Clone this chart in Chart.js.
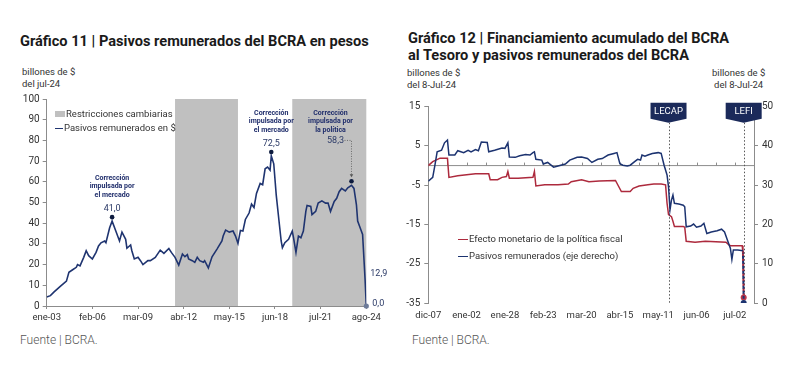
<!DOCTYPE html>
<html>
<head>
<meta charset="utf-8">
<script src="https://cdn.jsdelivr.net/npm/chart.js@4.4.1/dist/chart.umd.min.js"></script>
<style>
body { margin: 0; background: #fff; font-family: Roboto, "Noto Sans", sans-serif; color: #222; }
#page { position: relative; width: 800px; height: 375px; overflow: hidden; }
.t { position: absolute; white-space: nowrap; }
.titulo { font-weight: 700; font-size: 14.6px; line-height: 16.7px; color: #1a1a1a; }
.unidad { font-size: 9.5px; line-height: 11.5px; color: #333; }
.fuente { font-weight: 300; font-size: 12px; color: #555; }
.ley { font-size: 9.5px; line-height: 14px; color: #333; }
.ley span { display: inline-block; vertical-align: middle; margin-right: 1px; }
canvas { position: absolute; }
</style>
</head>
<body>
<div id="page">
  <div class="t titulo" style="left:20px; top:33px;">Gráfico 11 | Pasivos remunerados del BCRA en pesos</div>
  <div class="t unidad" style="left:22px; top:66px;">billones de $<br>del jul-24</div>

  <div class="t titulo" style="left:408px; top:30px;">Gráfico 12 | Financiamiento acumulado del BCRA<br>al Tesoro y pasivos remunerados del BCRA</div>
  <div class="t unidad" style="left:407px; top:67px;">billones de $<br>del 8-Jul-24</div>
  <div class="t unidad" style="left:712px; top:67px; text-align:center;">billones de $<br>del 8-Jul-24</div>

  <canvas id="g11" width="400" height="240" style="left:0px; top:90px;"></canvas>
  <canvas id="g12" width="400" height="240" style="left:400px; top:90px;"></canvas>

  <div class="t ley" style="left:55px; top:107px;">
    <span style="width:10px; height:6px; background:#c0c0c0;"></span>Restricciones cambiarias<br>
    <span style="width:8px; height:1.6px; background:#1f3470;"></span>Pasivos remunerados en $
  </div>

  <div class="t ley" style="left:458px; top:230px; line-height:17px;">
    <span style="width:10px; height:1.6px; background:#ad2a3d;"></span>Efecto monetario de la política fiscal<br>
    <span style="width:10px; height:1.6px; background:#1c3370;"></span>Pasivos remunerados (eje derecho)
  </div>

  <div class="t fuente" style="left:20px; top:333px;">Fuente | BCRA.</div>
  <div class="t fuente" style="left:412px; top:333px;">Fuente | BCRA.</div>
</div>

<script>
// ---- Gráfico 11: meses desde ene-03 ----
const etiquetas11 = ['ene-03', 'feb-06', 'mar-09', 'abr-12', 'may-15', 'jun-18', 'jul-21', 'ago-24'];
const mesesPasivos = [0, 3, 6, 11, 16, 18, 21, 24, 25, 27, 30, 32, 34, 37, 40, 42, 44, 47, 48, 51,
  53, 56, 59, 61, 64, 65, 68, 69, 71, 74, 76, 78, 82, 84, 88, 92, 95, 99, 101, 104,
  107, 110, 112, 114, 115, 118, 120, 122, 124, 127, 128, 131, 134, 138, 142, 143, 145, 148, 151, 153,
  155, 157, 159, 161, 164, 166, 168, 170, 173, 175, 177, 179, 181, 182, 184, 186, 188, 190, 191, 193,
  196, 199, 200, 202, 204, 206, 208, 210, 211, 214, 215, 218, 220, 223, 226, 228, 230, 233, 235, 237,
  239, 242, 244, 247, 249, 251, 252, 254, 256, 258, 259];
const pasivos = [4.4, 5.0, 6.8, 9.5, 12.0, 16.3, 17.5, 18.7, 20.0, 19.4, 23.5, 26.7, 24.3, 22.7, 25.9, 29.0, 30.5, 31.4, 30.6, 37.8,
  41.0, 36.2, 31.4, 35.7, 32.2, 27.9, 29.5, 26.7, 22.7, 23.5, 21.9, 20.0, 21.9, 21.9, 23.5, 27.0, 25.4, 27.8, 25.9, 23.5,
  19.8, 25.1, 23.8, 24.8, 22.7, 21.9, 21.1, 23.5, 21.9, 21.1, 21.9, 18.4, 23.8, 27.5, 31.4, 33.8, 36.7, 35.7, 36.2, 33.8,
  30.3, 36.5, 36.2, 41.8, 44.9, 49.2, 47.6, 54.4, 59.2, 58.6, 66.3, 67.1, 65.6, 72.5, 68.7, 53.7, 42.5, 31.4, 28.2, 30.6,
  32.2, 36.2, 33.0, 25.9, 33.8, 33.0, 36.2, 45.7, 48.6, 48.1, 44.1, 45.7, 49.7, 50.8, 49.7, 49.7, 45.7, 50.5, 52.0, 55.2,
  56.8, 55.6, 57.1, 58.3, 56.8, 48.9, 41.0, 37.8, 34.6, 12.9, 0.0];
const restrInicio = [104, 199];
const restrFin = [155, 259];
const picosMes = [53, 182, 247];
const picosValor = [41.0, 72.5, 58.3];
const picosTexto = [['Corrección', 'impulsada por', 'el mercado'],
                    ['Corrección', 'impulsada por', 'el mercado'],
                    ['Corrección', 'impulsada por', 'la política']];

// ---- Gráfico 12: días desde dic-07 ----
const etiquetas12 = ['dic-07', 'ene-02', 'ene-28', 'feb-23', 'mar-20', 'abr-15', 'may-11', 'jun-06', 'jul-02'];
const diasPasivos = [0, 3, 4.5, 6, 9, 11, 13, 14, 18, 20, 24, 27, 29, 32, 34, 36, 40, 41, 45, 50,
  52, 54, 55, 59, 62, 66, 69, 71, 72, 73, 77, 78, 81, 85, 88, 93, 96, 101, 104, 108,
  111, 115, 118, 122, 126, 128, 130, 132, 135, 137, 140, 142, 144, 145, 147, 149, 152, 156, 158, 160,
  162, 163, 164, 165, 166, 167, 170, 173, 174, 175, 178, 180, 182, 185, 187, 189, 192, 196, 199, 201,
  203, 205, 206, 207, 210, 213.5];
const pasivosRem = [31.0, 32.0, 35.1, 38.5, 38.9, 40.8, 41.5, 37.7, 37.7, 38.8, 38.3, 38.9, 38.5, 39.1, 38.8, 41.0, 40.9, 38.5, 38.9, 39.5,
  39.4, 40.8, 37.2, 37.1, 37.5, 37.8, 37.7, 38.3, 38.5, 36.6, 36.4, 35.4, 35.8, 34.6, 34.9, 35.4, 36.4, 37.1, 37.2, 36.8,
  35.8, 36.6, 36.8, 37.7, 38.1, 38.3, 35.5, 35.1, 34.9, 35.1, 36.0, 36.6, 36.4, 37.7, 37.4, 37.7, 38.1, 38.3, 38.1, 35.1,
  32.6, 29.6, 23.7, 26.2, 27.5, 25.4, 25.2, 24.9, 24.5, 19.4, 19.6, 20.1, 19.3, 19.6, 20.3, 17.7, 18.1, 18.4, 18.8, 18.1,
  16.0, 13.9, 11.1, 13.5, 13.5, 13.3];
const diasEfecto = [0, 3, 8, 13, 14, 20, 32, 41, 42, 47, 50, 53, 54, 55, 61, 71, 72, 73, 79, 88,
  95, 97, 104, 109, 116, 127, 129, 131, 137, 139, 143, 149, 153, 158, 161, 162, 163, 165, 166, 167,
  173, 174, 175, 181, 188, 202, 204, 205, 213, 213.5];
const efectoFiscal = [0.0, 1.0, 1.9, 1.9, -3.0, -2.6, -2.1, -2.1, -3.6, -3.6, -3.0, -2.8, -1.5, -3.2, -3.2, -3.0, -1.5, -5.2, -4.9, -4.9,
  -4.7, -4.1, -3.6, -4.1, -3.9, -3.8, -5.2, -6.6, -6.6, -5.8, -5.2, -4.9, -4.7, -4.7, -4.9, -9.6, -12.5, -13.0, -14.2, -15.5,
  -15.5, -15.7, -19.3, -19.5, -19.3, -19.5, -20.2, -20.4, -20.4, -22.3];
const diasProy = [213.5, 214];
const efectoProy = [-22.3, -33.6];
const pasivosProy = [13.3, 0.0];
const eventosDia = [163, 214];
const eventosTexto = ['LECAP', 'LEFI'];

const gris = '#8c8c8c';
const fuenteEje = { family: 'Roboto', size: 9.5 };
const coma = v => v.toFixed(1).replace('.', ',');
const puntos = (xs, ys) => xs.map((x, i) => ({ x: x, y: ys[i] }));

const plugin11 = {
  id: 'anotaciones11',
  beforeDatasetsDraw(chart) {
    const { ctx, scales: { x, y } } = chart;
    ctx.save();
    ctx.fillStyle = '#c0c0c0';
    restrInicio.forEach((m, i) => {
      const x0 = x.getPixelForValue(m), x1 = x.getPixelForValue(restrFin[i]);
      const y0 = y.getPixelForValue(100), y1 = y.getPixelForValue(0);
      ctx.fillRect(x0, y0, x1 - x0, y1 - y0);
    });
    ctx.restore();
  },
  afterDatasetsDraw(chart) {
    const { ctx, scales: { x, y } } = chart;
    ctx.save();
    ctx.textAlign = 'center';
    ctx.textBaseline = 'middle';
    const topBloque = y.getPixelForValue(picosValor[1]) - 43;
    picosMes.forEach((m, i) => {
      const px = x.getPixelForValue(m), py = y.getPixelForValue(picosValor[i]);
      let bx = px, by = py - 43, vx = px, vy = py - 12.5;
      if (i === 2) { bx = px - 21; by = topBloque; vx = px - 16; vy = topBloque + 27.5; }
      ctx.fillStyle = '#1f2d6b';
      ctx.font = 'bold 7px Roboto';
      picosTexto[i].forEach((linea, k) => ctx.fillText(linea, bx, by + k * 8.6));
      ctx.fillStyle = '#2b3a67';
      ctx.font = '9px Roboto';
      ctx.fillText(coma(picosValor[i]), vx, vy);
      if (i === 2) {
        ctx.strokeStyle = '#555';
        ctx.lineWidth = 0.8;
        ctx.setLineDash([1, 1.5]);
        ctx.beginPath();
        ctx.moveTo(px - 7, vy);
        ctx.lineTo(px, vy);
        ctx.lineTo(px, py - 10);
        ctx.stroke();
        ctx.setLineDash([]);
        ctx.fillStyle = '#555';
        ctx.beginPath();
        ctx.moveTo(px - 1.8, py - 11);
        ctx.lineTo(px + 1.8, py - 11);
        ctx.lineTo(px, py - 8);
        ctx.fill();
      }
      ctx.fillStyle = '#0d1b3e';
      ctx.beginPath();
      ctx.arc(px, py - 4, 2.3, 0, Math.PI * 2);
      ctx.fill();
    });
    // ultimos datos
    const n = mesesPasivos.length;
    const xf = x.getPixelForValue(mesesPasivos[n - 1]);
    ctx.textAlign = 'left';
    ctx.fillStyle = '#2b3a67';
    ctx.font = '9px Roboto';
    ctx.fillText(coma(pasivos[n - 2]), xf + 4, y.getPixelForValue(pasivos[n - 2]) - 6);
    ctx.fillText(coma(pasivos[n - 1]), xf + 6, y.getPixelForValue(pasivos[n - 1]) - 2);
    ctx.fillStyle = '#6d7b99';
    ctx.beginPath();
    ctx.arc(xf, y.getPixelForValue(pasivos[n - 1]), 2.6, 0, Math.PI * 2);
    ctx.fill();
    ctx.restore();
  }
};

new Chart(document.getElementById('g11'), {
  type: 'line',
  data: {
    datasets: [{
      label: 'Pasivos remunerados en $',
      data: puntos(mesesPasivos, pasivos),
      borderColor: '#1f3470',
      borderWidth: 1.6,
      pointRadius: 0,
      tension: 0
    }]
  },
  options: {
    responsive: false,
    animation: false,
    layout: { padding: { top: 7, right: 33.7 } },
    plugins: { legend: { display: false }, tooltip: { enabled: false } },
    scales: {
      x: {
        type: 'linear', min: 0, max: 259,
        afterFit: s => { s.height = 24; },
        ticks: {
          stepSize: 37, includeBounds: false, autoSkip: false, maxRotation: 0, padding: 3,
          color: '#333', font: fuenteEje,
          callback: v => etiquetas11[Math.round(v / 37)]
        },
        grid: { drawOnChartArea: false, tickLength: 3, color: gris },
        border: { color: gris }
      },
      y: {
        min: 0, max: 100,
        afterFit: s => { s.width = 46.7; },
        ticks: { stepSize: 10, padding: 3, color: '#333', font: { family: 'Roboto', size: 10 } },
        grid: { drawOnChartArea: false, tickLength: 4, color: gris },
        border: { color: gris }
      }
    }
  },
  plugins: [plugin11]
});

const plugin12 = {
  id: 'anotaciones12',
  beforeDatasetsDraw(chart) {
    const { ctx, chartArea, scales: { x, y } } = chart;
    ctx.save();
    const y0 = y.getPixelForValue(0);
    ctx.strokeStyle = gris;
    ctx.lineWidth = 1;
    ctx.beginPath();
    ctx.moveTo(chartArea.left, y0);
    ctx.lineTo(chartArea.right, y0);
    for (let d = 13; d < 221; d += 13) {
      const px = Math.round(x.getPixelForValue(d)) + 0.5;
      ctx.moveTo(px, y0 - 3);
      ctx.lineTo(px, y0);
    }
    ctx.stroke();
    ctx.strokeStyle = '#555';
    ctx.setLineDash([1.5, 2]);
    eventosDia.forEach(d => {
      const px = Math.round(x.getPixelForValue(d)) + 0.5;
      ctx.beginPath();
      ctx.moveTo(px, chartArea.top + 16);
      ctx.lineTo(px, chartArea.bottom);
      ctx.stroke();
    });
    ctx.restore();
  },
  afterDraw(chart) {
    const { ctx, chartArea, scales: { x } } = chart;
    ctx.save();
    eventosDia.forEach((d, i) => {
      const px = x.getPixelForValue(d), t = chartArea.top;
      ctx.fillStyle = '#1b2a5a';
      ctx.beginPath();
      ctx.moveTo(px - 18, t - 4);
      ctx.lineTo(px + 18, t - 4);
      ctx.lineTo(px + 18, t + 12);
      ctx.lineTo(px, t + 16);
      ctx.lineTo(px - 18, t + 12);
      ctx.closePath();
      ctx.fill();
      ctx.fillStyle = '#fff';
      ctx.font = '9.5px Roboto';
      ctx.textAlign = 'center';
      ctx.textBaseline = 'middle';
      ctx.fillText(eventosTexto[i], px, t + 5);
    });
    ctx.restore();
  }
};

new Chart(document.getElementById('g12'), {
  type: 'line',
  data: {
    datasets: [
      {
        label: 'Pasivos remunerados (eje derecho)',
        data: puntos(diasPasivos, pasivosRem),
        yAxisID: 'y1', borderColor: '#1c3370', borderWidth: 1.5, pointRadius: 0
      },
      {
        label: 'Efecto monetario de la política fiscal',
        data: puntos(diasEfecto, efectoFiscal),
        yAxisID: 'y', borderColor: '#ad2a3d', borderWidth: 1.5, pointRadius: 0
      },
      {
        label: 'proy pasivos',
        data: puntos(diasProy, pasivosProy),
        yAxisID: 'y1', borderColor: '#1c3370', borderWidth: 2, borderDash: [3, 2],
        pointRadius: [0, 3], pointBackgroundColor: '#1c3370', pointBorderWidth: 0
      },
      {
        label: 'proy efecto',
        data: puntos(diasProy, efectoProy),
        yAxisID: 'y', borderColor: '#ad2a3d', borderWidth: 2, borderDash: [3, 2],
        pointRadius: [0, 3], pointBackgroundColor: '#c0394b', pointBorderWidth: 0
      }
    ]
  },
  options: {
    responsive: false,
    animation: false,
    layout: { padding: { top: 16.7 } },
    plugins: { legend: { display: false }, tooltip: { enabled: false } },
    scales: {
      x: {
        type: 'linear', min: 0, max: 221,
        afterFit: s => { s.height = 27; },
        ticks: {
          stepSize: 26, includeBounds: false, autoSkip: false, maxRotation: 0, padding: 7,
          color: '#333', font: fuenteEje,
          callback: v => (v % 26 === 0 ? etiquetas12[v / 26] : '')
        },
        grid: { display: false, drawTicks: false },
        border: { display: false }
      },
      y: {
        position: 'left', min: -35, max: 15,
        afterFit: s => { s.width = 28.3; },
        ticks: { stepSize: 10, padding: 4, color: '#333', font: { family: 'Roboto', size: 10 } },
        grid: { drawOnChartArea: false, tickLength: 4, color: gris },
        border: { color: gris }
      },
      y1: {
        position: 'right', min: 0, max: 50,
        afterFit: s => { s.width = 46; },
        ticks: { stepSize: 10, padding: 4, color: '#333', font: { family: 'Roboto', size: 10 } },
        grid: { drawOnChartArea: false, tickLength: 4, color: gris },
        border: { color: gris }
      }
    }
  },
  plugins: [plugin12]
});
</script>
</body>
</html>
